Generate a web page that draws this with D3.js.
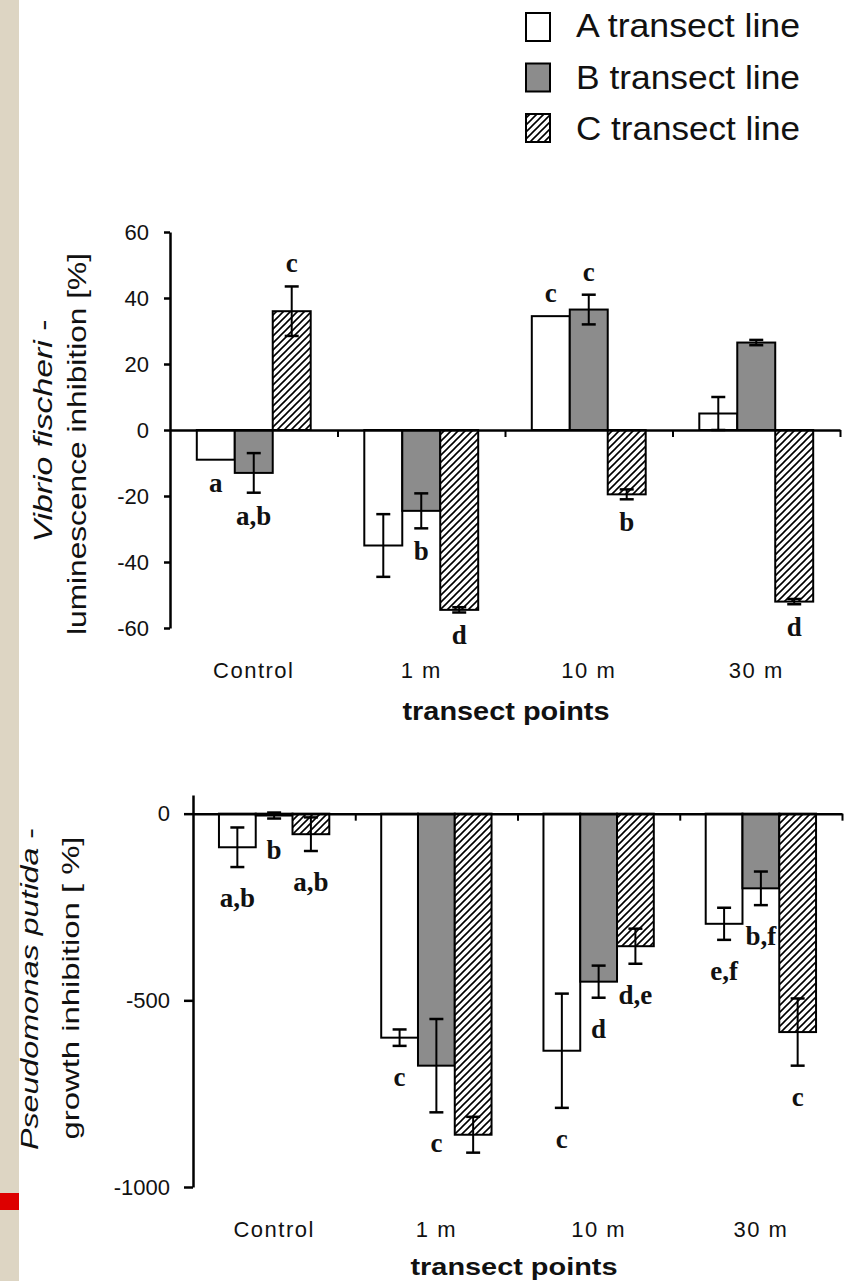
<!DOCTYPE html>
<html>
<head>
  <meta charset="utf-8">
  <script src="https://d3js.org/d3.v7.min.js"></script>
  <style>
    body { margin: 0; background: #fff; }
    text { font-family: "Liberation Sans", Arial, sans-serif; fill: #111; }
    .sig { font-family: "Liberation Serif", "Times New Roman", serif; font-weight: bold; font-size: 27px; }
    .tick text { font-size: 22px; }
  </style>
</head>
<body>
  <svg id="chart"></svg>
  <script>
    // categories and series
    var categories = ['Control', '1 m', '10 m', '30 m'];
    var seriesNames = ['A transect line', 'B transect line', 'C transect line'];

    // Vibrio fischeri - luminescence inhibition [%]
    var vibrioA = [-9, -35, 34.5, 5];
    var vibrioB = [-13, -24.5, 36.5, 26.5];
    var vibrioC = [36, -54.5, -19.5, -52];
    var vibrioErrA = [0, 9.5, 0, 5];
    var vibrioErrB = [6, 5.3, 4.5, 0.8];
    var vibrioErrC = [7.5, 0.8, 1.5, 0.8];
    var vibrioSigA = ['a', '', 'c', ''];
    var vibrioSigB = ['a,b', 'b', 'c', ''];
    var vibrioSigC = ['c', 'd', 'b', 'd'];
    var vibrioTicks = [-60, -40, -20, 0, 20, 40, 60];

    // Pseudomonas putida - growth inhibition [%]
    var pseudoA = [-90, -600, -635, -295];
    var pseudoB = [-5, -675, -450, -200];
    var pseudoC = [-55, -860, -355, -585];
    var pseudoErrA = [53, 22, 153, 43];
    var pseudoErrB = [8, 125, 43, 45];
    var pseudoErrC = [45, 48, 47, 90];
    var pseudoSigA = ['a,b', 'c', 'c', 'e,f'];
    var pseudoSigB = ['b', 'c', 'd', 'b,f'];
    var pseudoSigC = ['a,b', '', 'd,e', 'c'];
    var pseudoTicks = [-1000, -500, 0];

    var svg = d3.select('#chart').attr('width', 845).attr('height', 1281);

    var defs = svg.append('defs');
    var pat = defs.append('pattern')
      .attr('id', 'hatch')
      .attr('patternUnits', 'userSpaceOnUse')
      .attr('width', 7).attr('height', 7);
    pat.append('rect').attr('width', 7).attr('height', 7).attr('fill', '#fff');
    pat.append('path')
      .attr('d', 'M-1,8 L8,-1 M-2,2 L2,-2 M5,9 L9,5')
      .attr('stroke', '#000').attr('stroke-width', 1.6);

    var fills = ['#fff', '#8c8c8c', 'url(#hatch)'];

    // left page strip
    svg.append('rect').attr('x', 0).attr('y', 0).attr('width', 19).attr('height', 1281).attr('fill', '#ddd5c3');
    svg.append('rect').attr('x', 0).attr('y', 1193).attr('width', 19).attr('height', 17).attr('fill', '#dd0000');

    // legend
    var legend = svg.append('g');
    seriesNames.forEach(function(name, i) {
      legend.append('rect')
        .attr('x', 526).attr('y', 13 + i * 50.5)
        .attr('width', 24).attr('height', 28)
        .attr('fill', fills[i]).attr('stroke', '#000').attr('stroke-width', 2);
      legend.append('text')
        .attr('x', 576).attr('y', 37 + i * 51.5)
        .attr('font-size', 34)
        .attr('textLength', 224).attr('lengthAdjust', 'spacingAndGlyphs')
        .text(name);
    });

    function drawPanel(p) {
      var x0 = d3.scaleBand().domain(categories).range(p.xRange);
      var gw = x0.bandwidth() * 0.68;
      var x1 = d3.scaleBand().domain([0, 1, 2])
        .range([(x0.bandwidth() - gw) / 2, (x0.bandwidth() + gw) / 2]);
      var y = d3.scaleLinear().domain(p.yDomain).range(p.yRange);

      var g = svg.append('g');

      // bars
      var rows = [];
      p.values.forEach(function(vals, s) {
        vals.forEach(function(v, i) {
          rows.push({ s: s, cat: categories[i], v: v, e: p.errs[s][i], sig: p.sigs[s][i] });
        });
      });

      g.selectAll('.bar')
        .data(rows)
        .enter().append('rect')
        .attr('x', function(d) { return x0(d.cat) + x1(d.s); })
        .attr('y', function(d) { return y(Math.max(0, d.v)); })
        .attr('width', x1.bandwidth())
        .attr('height', function(d) { return Math.abs(y(d.v) - y(0)); })
        .attr('fill', function(d) { return fills[d.s]; })
        .attr('stroke', '#000').attr('stroke-width', 2);

      // error bars
      var eb = g.selectAll('.err')
        .data(rows.filter(function(d) { return d.e > 0; }))
        .enter().append('g')
        .attr('transform', function(d) { return 'translate(' + (x0(d.cat) + x1(d.s) + x1.bandwidth() / 2) + ',0)'; });
      eb.append('line')
        .attr('y1', function(d) { return y(d.v + d.e); })
        .attr('y2', function(d) { return y(d.v - d.e); })
        .attr('stroke', '#000').attr('stroke-width', 2);
      eb.append('line')
        .attr('x1', -7).attr('x2', 7)
        .attr('y1', function(d) { return y(d.v + d.e); })
        .attr('y2', function(d) { return y(d.v + d.e); })
        .attr('stroke', '#000').attr('stroke-width', 2.5);
      eb.append('line')
        .attr('x1', -7).attr('x2', 7)
        .attr('y1', function(d) { return y(d.v - d.e); })
        .attr('y2', function(d) { return y(d.v - d.e); })
        .attr('stroke', '#000').attr('stroke-width', 2.5);

      // significance letters
      g.selectAll('.sig')
        .data(rows.filter(function(d) { return d.sig; }))
        .enter().append('text')
        .attr('class', 'sig')
        .attr('text-anchor', 'middle')
        .attr('dominant-baseline', 'central')
        .attr('x', function(d) { return x0(d.cat) + x1(d.s) + x1.bandwidth() / 2; })
        .attr('y', function(d) {
          return d.v < 0 ? y(d.v - d.e) + p.sigOffset : y(d.v + d.e) - p.sigOffset;
        })
        .text(function(d) { return d.sig; });

      // y axis
      var ya = g.append('g')
        .attr('transform', 'translate(' + p.xRange[0] + ',0)')
        .call(d3.axisLeft(y).tickValues(p.ticks)
          .tickFormat(function(d) { return String(d); })
          .tickSize(p.tickSize).tickSizeOuter(0).tickPadding(p.tickPad));
      ya.select('.domain').attr('stroke-width', 2.5);
      ya.selectAll('.tick line').attr('stroke-width', 2.5);

      // x axis line with boundary ticks
      var xb = d3.scaleLinear().domain([0, categories.length]).range(p.xRange);
      var xa = g.append('g')
        .attr('transform', 'translate(0,' + y(0) + ')')
        .call(d3.axisBottom(xb).tickValues([1, 2, 3, 4]).tickFormat('').tickSize(7).tickSizeOuter(0));
      xa.select('.domain').attr('stroke-width', 2.5);
      xa.selectAll('.tick line').attr('stroke-width', 2);

      // category labels
      var cl = g.append('g')
        .attr('transform', 'translate(0,' + p.catY + ')')
        .call(d3.axisBottom(x0).tickSize(0).tickPadding(0));
      cl.select('.domain').remove();
      cl.selectAll('text').attr('font-size', 21).attr('letter-spacing', 1.5);

      g.append('text')
        .attr('x', p.titleX).attr('y', p.titleY)
        .attr('text-anchor', 'middle')
        .attr('font-weight', 'bold').attr('font-size', p.titleSize)
        .attr('textLength', 207).attr('lengthAdjust', 'spacingAndGlyphs')
        .text('transect points');

      // y axis title, two lines
      var t1 = g.append('text')
        .attr('transform', 'translate(' + p.yt1[0] + ',' + p.yt1[1] + ') rotate(-90)')
        .attr('text-anchor', 'middle').attr('font-size', p.ytSize)
        .attr('textLength', p.yt1[2]).attr('lengthAdjust', 'spacingAndGlyphs');
      t1.append('tspan').attr('font-style', 'italic').text(p.yTitle1);
      t1.append('tspan').text('  -');
      g.append('text')
        .attr('transform', 'translate(' + p.yt2[0] + ',' + p.yt2[1] + ') rotate(-90)')
        .attr('text-anchor', 'middle').attr('font-size', p.ytSize)
        .attr('textLength', p.yt2[2]).attr('lengthAdjust', 'spacingAndGlyphs')
        .text(p.yTitle2);
    }

    drawPanel({
      xRange: [170, 840],
      yDomain: [-60, 60],
      yRange: [628, 232],
      values: [vibrioA, vibrioB, vibrioC],
      errs: [vibrioErrA, vibrioErrB, vibrioErrC],
      sigs: [vibrioSigA, vibrioSigB, vibrioSigC],
      sigOffset: 23,
      ticks: vibrioTicks,
      tickSize: 6, tickPad: 15,
      catY: 662,
      titleX: 506, titleY: 720, titleSize: 25,
      yTitle1: 'Vibrio fischeri', yTitle2: 'luminescence inhibition  [%]',
      yt1: [52, 431, 223], yt2: [86, 444, 382], ytSize: 26
    });

    drawPanel({
      xRange: [193, 842],
      yDomain: [-1000, 50],
      yRange: [1187, 795],
      values: [pseudoA, pseudoB, pseudoC],
      errs: [pseudoErrA, pseudoErrB, pseudoErrC],
      sigs: [pseudoSigA, pseudoSigB, pseudoSigC],
      sigOffset: 31,
      ticks: pseudoTicks,
      tickSize: 9, tickPad: 14,
      catY: 1221,
      titleX: 514, titleY: 1275, titleSize: 23,
      yTitle1: 'Pseudomonas putida', yTitle2: 'growth inhibition [ %]',
      yt1: [38, 989, 322], yt2: [79, 988, 303], ytSize: 24
    });
  </script>
</body>
</html>
